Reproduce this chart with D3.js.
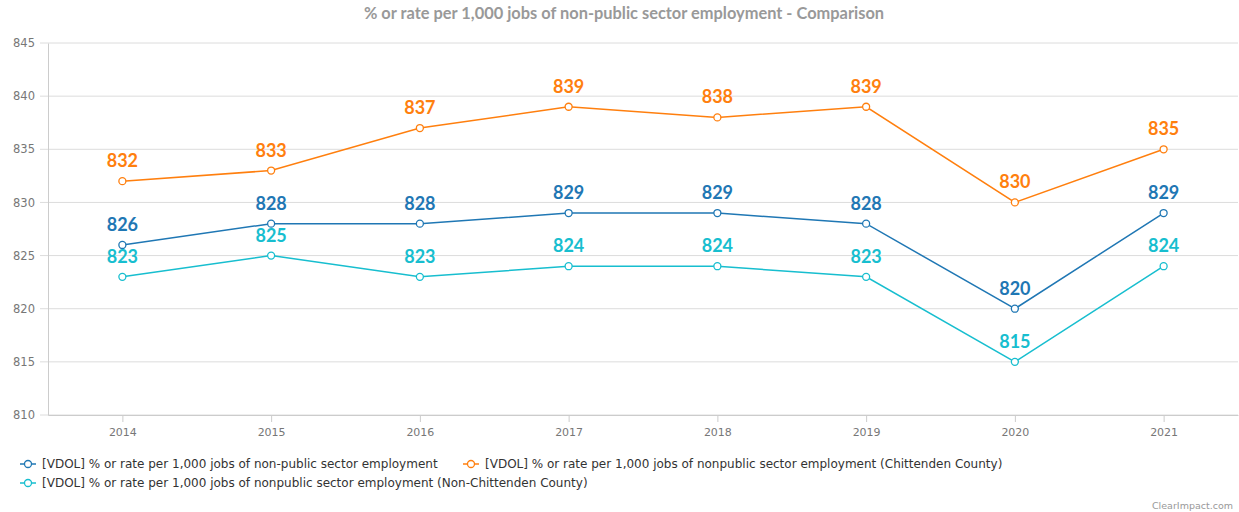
<!DOCTYPE html>
<html>
<head>
<meta charset="utf-8">
<script src="https://cdn.jsdelivr.net/npm/d3@7"></script>
<style>
  body { margin: 0; background: #fff; }
  svg { display: block; }
</style>
</head>
<body>
<div id="chart"></div>
<script>
var years = ['2014', '2015', '2016', '2017', '2018', '2019', '2020', '2021'];
var yTicks = [810, 815, 820, 825, 830, 835, 840, 845];
var seriesNames = [
  '[VDOL] % or rate per 1,000 jobs of non-public sector employment',
  '[VDOL] % or rate per 1,000 jobs of nonpublic sector employment (Chittenden County)',
  '[VDOL] % or rate per 1,000 jobs of nonpublic sector employment (Non-Chittenden County)'
];
var seriesColors = ['#1f77b4', '#ff7f0e', '#17becf'];
var vtValues = [826, 828, 828, 829, 829, 828, 820, 829];
var chittValues = [832, 833, 837, 839, 838, 839, 830, 835];
var nonChittValues = [823, 825, 823, 824, 824, 823, 815, 824];
var allValues = [vtValues, chittValues, nonChittValues];

var width = 1239, height = 512;
var plotLeft = 48, plotRight = 1238, plotTop = 43, plotBottom = 415;

var svg = d3.select('#chart').append('svg')
  .attr('width', width).attr('height', height);

var x = d3.scalePoint().domain(years).range([plotLeft, plotRight]).padding(0.5);
var y = d3.scaleLinear().domain([810, 845]).range([plotBottom, plotTop]);

// title
svg.append('text')
  .attr('x', 624).attr('y', 19)
  .attr('text-anchor', 'middle')
  .style('font-family', 'Lato, sans-serif')
  .style('font-weight', 'bold')
  .style('font-size', '16.4px')
  .style('fill', '#999')
  .text('% or rate per 1,000 jobs of non-public sector employment - Comparison');

// gridlines
svg.append('g').selectAll('line').data(yTicks).enter().append('line')
  .attr('x1', plotLeft - 8).attr('x2', plotRight)
  .attr('y1', function(d) { return y(d); })
  .attr('y2', function(d) { return y(d); })
  .style('stroke', '#dcdcdc').style('stroke-width', 1);

// y axis
var yAxis = svg.append('g')
  .attr('transform', 'translate(' + plotLeft + ',0)')
  .call(d3.axisLeft(y).tickValues(yTicks).tickSize(0).tickPadding(13));
yAxis.select('.domain').style('stroke', '#ccc');
yAxis.selectAll('text')
  .style('font-family', '"DejaVu Sans", sans-serif')
  .style('font-size', '11.5px')
  .style('fill', '#777');

// x axis
var xAxis = svg.append('g')
  .attr('transform', 'translate(0,' + plotBottom + ')')
  .call(d3.axisBottom(x).tickSize(7).tickPadding(6).tickSizeOuter(0));
xAxis.select('.domain').style('stroke', '#ccc');
xAxis.selectAll('line').style('stroke', '#ccc');
xAxis.selectAll('text')
  .style('font-family', '"DejaVu Sans", sans-serif')
  .style('font-size', '11px')
  .style('fill', '#777');

var line = d3.line()
  .x(function(d, i) { return x(years[i]); })
  .y(function(d) { return y(d); });

allValues.forEach(function(vals, s) {
  var g = svg.append('g');
  g.append('path')
    .datum(vals)
    .attr('d', line)
    .style('fill', 'none')
    .style('stroke', seriesColors[s])
    .style('stroke-width', 1.5);
  g.selectAll('circle').data(vals).enter().append('circle')
    .attr('cx', function(d, i) { return x(years[i]); })
    .attr('cy', function(d) { return y(d); })
    .attr('r', 3.5)
    .style('fill', '#fff')
    .style('stroke', seriesColors[s])
    .style('stroke-width', 1.3);
  g.selectAll('text').data(vals).enter().append('text')
    .attr('x', function(d, i) { return x(years[i]); })
    .attr('y', function(d) { return y(d) - 14; })
    .attr('text-anchor', 'middle')
    .style('font-family', 'Lato, sans-serif')
    .style('font-weight', 'bold')
    .style('font-size', '18px')
    .style('fill', seriesColors[s])
    .text(function(d) { return d; });
});

// legend
var legendPos = [[20, 464], [463, 464], [20, 483]];
seriesNames.forEach(function(name, s) {
  var lg = svg.append('g')
    .attr('transform', 'translate(' + legendPos[s][0] + ',' + legendPos[s][1] + ')');
  lg.append('line').attr('x1', 0).attr('x2', 16).attr('y1', 0).attr('y2', 0)
    .style('stroke', seriesColors[s]).style('stroke-width', 1.5);
  lg.append('circle').attr('cx', 8).attr('cy', 0).attr('r', 3.5)
    .style('fill', '#fff').style('stroke', seriesColors[s]).style('stroke-width', 1.3);
  lg.append('text').attr('x', 22).attr('y', 4)
    .style('font-family', '"DejaVu Sans", sans-serif')
    .style('font-size', '12px')
    .style('fill', '#333')
    .text(name);
});

svg.append('text')
  .attr('x', 1233).attr('y', 509)
  .attr('text-anchor', 'end')
  .style('font-family', '"DejaVu Sans", sans-serif')
  .style('font-size', '9.5px')
  .style('fill', '#999')
  .text('ClearImpact.com');
</script>
</body>
</html>
